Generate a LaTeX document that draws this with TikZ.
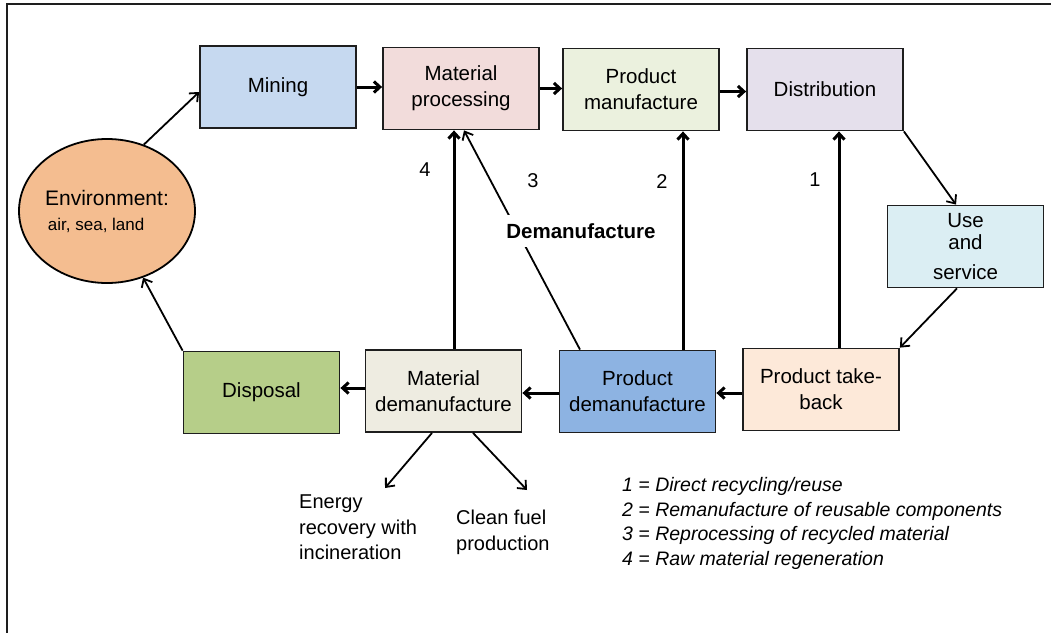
\documentclass[tikz,border=0pt]{standalone}
\usepackage{fontspec}
\setmainfont{Liberation Sans}
\usetikzlibrary{arrows.meta,shapes.geometric}

\definecolor{cMining}{HTML}{C6D9F0}
\definecolor{cProcess}{HTML}{F2DCDB}
\definecolor{cManuf}{HTML}{EBF1DE}
\definecolor{cDistrib}{HTML}{E5E0EC}
\definecolor{cUse}{HTML}{DBEEF3}
\definecolor{cTake}{HTML}{FDE9D9}
\definecolor{cProdDem}{HTML}{8DB3E2}
\definecolor{cMatDem}{HTML}{EEECE1}
\definecolor{cDisposal}{HTML}{B6CE89}
\definecolor{cEnv}{HTML}{F4BD90}
\definecolor{edge}{HTML}{1E1E1E}

\newcommand\stagefont{\fontsize{20.5}{26}\selectfont}
\newcommand\labelfont{\fontsize{20}{25.5}\selectfont}
\newcommand\legendfont{\fontsize{19.5}{24.7}\selectfont\itshape}

\begin{document}
\begin{tikzpicture}[x=1pt,y=-1pt,
  stage/.style={draw=edge, line width=1.8pt, minimum width=156pt,
    minimum height=82pt, inner sep=0pt, align=center, font=\stagefont},
  flow/.style={draw=black, line width=3pt, -{Straight Barb[length=6pt,width=11pt]}},
  link/.style={draw=black, line width=1.8pt, -{Straight Barb[length=7pt,width=12pt]}},
  plain/.style={inner sep=0pt, font=\labelfont},
]
\useasboundingbox (0,0) rectangle (1051,632);

% outer frame
\draw[line width=2pt, edge] (7,640) -- (7,4) -- (1060,4);

% life-cycle stages
\node[stage, fill=cMining]   (mining)  at (278,87)    {Mining};
\node[stage, fill=cProcess]  (proc)    at (461,88.5)  {Material\\processing};
\node[stage, fill=cManuf]    (manuf)   at (641,89.5)  {Product\\manufacture};
\node[stage, fill=cDistrib]  (distrib) at (825,89.5)  {Distribution};
\node[stage, fill=cUse]      (use)     at (965.5,246.5) {Use\\[-4pt]and\\[4pt]service};
\node[stage, fill=cTake]     (take)    at (821,389.5) {Product take-\\back};
\node[stage, fill=cProdDem]  (pdem)    at (637.5,391.5) {Product\\demanufacture};
\node[stage, fill=cMatDem]   (mdem)    at (443.5,391) {Material\\demanufacture};
\node[stage, fill=cDisposal] (disposal) at (261.5,392.5) {Disposal};

\node[draw=black, line width=1.8pt, fill=cEnv, ellipse, minimum width=176pt,
  minimum height=144pt, inner sep=0pt, align=left, font=\fontsize{21}{25}\selectfont]
  (env) at (107,211) {Environment:\\{\fontsize{17}{20}\selectfont\,air, sea, land}};

% forward chain
\draw[link] (env.61) -- ([yshift=-5pt]mining.west);
\draw[flow] (mining.east) -- (mining.east -| proc.west);
\draw[flow] (proc.east) -- (proc.east -| manuf.west);
\draw[flow] ([yshift=-2pt]manuf.east) -- ([yshift=-2pt]manuf.east -| distrib.west);
\draw[link] (distrib.south east) -- ([xshift=-9.5pt]use.north);
\draw[link] ([xshift=-8.5pt]use.south) -- (take.north east);

% return chain
\draw[flow] ([yshift=-3.5pt]take.west) -- ([yshift=-3.5pt]take.west -| pdem.east);
\draw[flow] ([yshift=-1.5pt]pdem.west) -- ([yshift=-1.5pt]pdem.west -| mdem.east);
\draw[flow] ([yshift=3pt]mdem.west) -- ([yshift=3pt]mdem.west -| disposal.east);
\draw[link] (disposal.north west) -- (env);

% recovery loops
\draw[flow] ([xshift=18pt]take.north) -- ([xshift=18pt]take.north |- distrib.south);
\draw[flow] ([xshift=45.5pt]pdem.north) -- ([xshift=45.5pt]pdem.north |- manuf.south);
\draw[link] ([xshift=-57.5pt]pdem.north) -- ([xshift=3pt]proc.south);
\draw[flow] ([xshift=10.5pt]mdem.north) -- ([xshift=10.5pt]mdem.north |- proc.south);

\node[fill=white, inner sep=8pt, font=\fontsize{20.5}{24}\selectfont\bfseries]
  (demanuf) at (581,231) {Demanufacture};

\node[plain] (n4) at (425,170) {4};
\node[plain] (n3) at (533,181) {3};
\node[plain] (n2) at (662,182) {2};
\node[plain] (n1) at (815,180) {1};

% by-products of material demanufacture
\coordinate (energyTip) at (385,488);
\coordinate (fuelTip) at (527,490);
\draw[link] ([xshift=-11.5pt]mdem.south) -- (energyTip);
\draw[link] ([xshift=29.5pt]mdem.south) -- (fuelTip);
\node[plain, anchor=north west, align=left] (energy) at (299,495)
  {Energy\\recovery with\\incineration};
\node[plain, anchor=north west, align=left, font=\fontsize{20}{26}\selectfont] (fuel) at (456,509.5)
  {Clean fuel\\production};

% key to the numbered loops
\node[plain, anchor=north west, align=left, font=\legendfont] (key) at (622,477)
  {1 = Direct recycling/reuse\\
   2 = Remanufacture of reusable components\\
   3 = Reprocessing of recycled material\\
   4 = Raw material regeneration};
\end{tikzpicture}
\end{document}
